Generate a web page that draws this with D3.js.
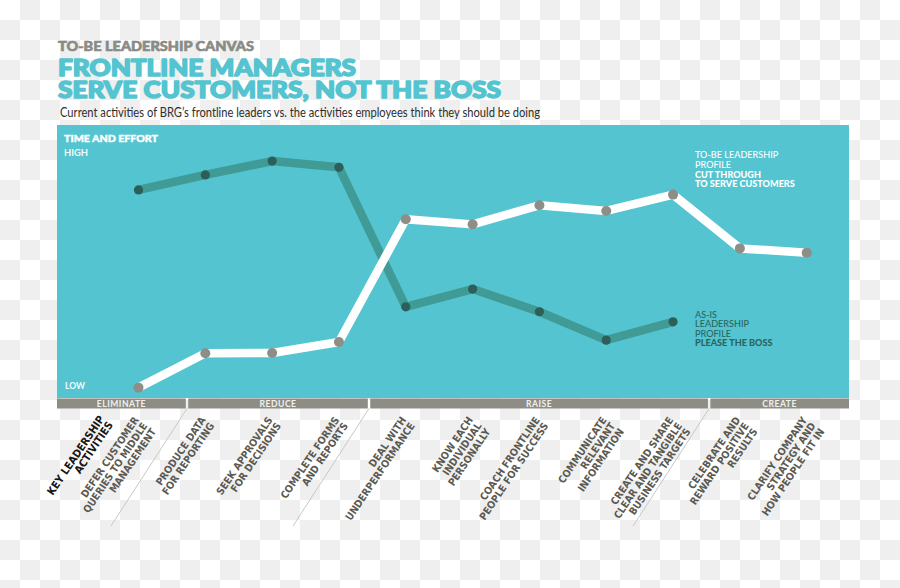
<!DOCTYPE html>
<html><head><meta charset="utf-8">
<script src="https://cdn.jsdelivr.net/npm/d3@7"></script>
<style>body{margin:0;background:#fff;} svg{display:block;}</style>
</head><body>
<script>
// ---- data ----
const activities = [
  ["DEFER CUSTOMER","QUERIES TO MIDDLE","MANAGEMENT"],
  ["PRODUCE DATA","FOR REPORTING"],
  ["SEEK APPROVALS","FOR DECISIONS"],
  ["COMPLETE FORMS","AND REPORTS"],
  ["DEAL WITH","UNDERPERFORMANCE"],
  ["KNOW EACH","INDIVIDUAL","PERSONALLY"],
  ["COACH FRONTLINE","PEOPLE FOR SUCCESS"],
  ["COMMUNICATE","RELEVANT","INFORMATION"],
  ["CREATE AND SHARE","CLEAR AND TANGIBLE","BUSINESS TARGETS"],
  ["CELEBRATE AND","REWARD POSITIVE","RESULTS"],
  ["CLARIFY COMPANY","STRATEGY AND","HOW PEOPLE FIT IN"]
];
const toBeValues = [3.8, 16.4, 16.5, 20.5, 65.5, 63.6, 70.6, 68.5, 74.5, 54.8, 53.2];
const asIsValues = [76.2, 81.7, 86.8, 84.5, 33.4, 39.9, 31.6, 21.2, 27.9, null, null];
const groupNames = ["ELIMINATE", "REDUCE", "RAISE", "CREATE"];
const groupBreaks = [0.726, 3.45, 8.54]; // in activity-index units
const levelLabels = ["LOW", "HIGH"];
const keyLabel = ["KEY LEADERSHIP", "ACTIVITIES"];
const toBeLegend = ["TO-BE LEADERSHIP", "PROFILE", "CUT THROUGH", "TO SERVE CUSTOMERS"];
const asIsLegend = ["AS-IS", "LEADERSHIP", "PROFILE", "PLEASE THE BOSS"];

// ---- layout ----
const W = 900, H = 588;
const panel = {left: 57, right: 849, top: 125, bottom: 398};
const TEAL = "#53c4d0";
const svg = d3.select("body").append("svg").attr("width", W).attr("height", H);

const defs = svg.append("defs");
const pat = defs.append("pattern").attr("id", "chk").attr("width", 40).attr("height", 40)
  .attr("patternUnits", "userSpaceOnUse");
pat.append("rect").attr("width", 40).attr("height", 40).attr("fill", "#ffffff");
pat.append("rect").attr("x", 20).attr("y", 0).attr("width", 20).attr("height", 20).attr("fill", "#efefef");
pat.append("rect").attr("x", 0).attr("y", 20).attr("width", 20).attr("height", 20).attr("fill", "#efefef");
svg.append("rect").attr("width", W).attr("height", H).attr("fill", "url(#chk)");

const x = d3.scaleLinear().domain([0, activities.length - 1]).range([138.5, 806.7]);
const y = d3.scaleLinear().domain([0, 100]).range([panel.bottom, panel.top]);

const heavy = "Lato, 'Open Sans', 'DejaVu Sans', sans-serif";
const narrow = "'Liberation Sans Narrow', 'DejaVu Sans Condensed', 'Roboto', sans-serif";

// header
svg.append("text").attr("x", 58).attr("y", 50.7).text("TO-BE LEADERSHIP CANVAS")
  .attr("font-family", heavy).attr("font-weight", 900).attr("font-size", 12.5)
  .attr("fill", "#8b8b85").attr("stroke", "#8b8b85").attr("stroke-width", 0.6)
  .attr("textLength", 196).attr("lengthAdjust", "spacingAndGlyphs");
svg.append("text").attr("x", 58).attr("y", 76).text("FRONTLINE MANAGERS")
  .attr("font-family", heavy).attr("font-weight", 900).attr("font-size", 22.5)
  .attr("fill", TEAL).attr("stroke", TEAL).attr("stroke-width", 1.5).attr("stroke-linejoin", "round")
  .attr("textLength", 298).attr("lengthAdjust", "spacingAndGlyphs");
svg.append("text").attr("x", 58).attr("y", 97.5).text("SERVE CUSTOMERS, NOT THE BOSS")
  .attr("font-family", heavy).attr("font-weight", 900).attr("font-size", 22.5)
  .attr("fill", TEAL).attr("stroke", TEAL).attr("stroke-width", 1.5).attr("stroke-linejoin", "round")
  .attr("textLength", 443).attr("lengthAdjust", "spacingAndGlyphs");
svg.append("text").attr("x", 60).attr("y", 117).text("Current activities of BRG\u2019s frontline leaders vs. the activities employees think they should be doing")
  .attr("font-family", "Lato, 'Open Sans', sans-serif").attr("font-size", 12.5)
  .attr("fill", "#2e2e2e").attr("textLength", 480).attr("lengthAdjust", "spacingAndGlyphs");

// panel
svg.append("rect").attr("x", panel.left).attr("y", panel.top)
  .attr("width", panel.right - panel.left).attr("height", panel.bottom - panel.top).attr("fill", TEAL);

svg.append("text").attr("x", 64).attr("y", 141.7).text("TIME AND EFFORT")
  .attr("font-family", heavy).attr("font-weight", 900).attr("font-size", 10)
  .attr("fill", "#fff").attr("stroke", "#fff").attr("stroke-width", 0.4)
  .attr("textLength", 94).attr("lengthAdjust", "spacingAndGlyphs");
svg.append("text").attr("x", 64).attr("y", 155.5).text(levelLabels[1])
  .attr("font-family", heavy).attr("font-weight", 700).attr("font-size", 9.5)
  .attr("fill", "#f2fbfc").attr("textLength", 24).attr("lengthAdjust", "spacingAndGlyphs");
svg.append("text").attr("x", 65).attr("y", 389).text(levelLabels[0])
  .attr("font-family", heavy).attr("font-weight", 700).attr("font-size", 9.5)
  .attr("fill", "#f2fbfc").attr("textLength", 20).attr("lengthAdjust", "spacingAndGlyphs");

// lines
const line = d3.line().defined(d => d != null).x((d, i) => x(i)).y(d => y(d));
svg.append("path").datum(asIsValues).attr("d", line).attr("fill", "none")
  .attr("stroke", "#409b96").attr("stroke-width", 8.5).attr("stroke-linejoin", "round");
svg.append("g").selectAll("circle").data(asIsValues.map((v, i) => [v, i]).filter(d => d[0] != null))
  .join("circle").attr("cx", d => x(d[1])).attr("cy", d => y(d[0])).attr("r", 4.6).attr("fill", "#2c5f59");
svg.append("path").datum(toBeValues).attr("d", line).attr("fill", "none")
  .attr("stroke", "#ffffff").attr("stroke-width", 8.5).attr("stroke-linejoin", "round").attr("stroke-linecap", "round");
svg.append("g").selectAll("circle").data(toBeValues)
  .join("circle").attr("cx", (d, i) => x(i)).attr("cy", d => y(d)).attr("r", 5).attr("fill", "#8f8e86");

// legends
function legend(lines, top, color, boldFrom) {
  const g = svg.append("g");
  lines.forEach((t, j) => {
    g.append("text").attr("x", 695).attr("y", top + j * 9.6).text(t)
      .attr("font-family", "Lato, 'Open Sans', sans-serif")
      .attr("font-weight", j >= boldFrom ? 900 : 500).attr("font-size", 9.1)
      .attr("fill", color);
  });
}
legend(toBeLegend, 158.3, "#ffffff", 2);
legend(asIsLegend, 317.5, "#2d645e", 3);

// category bar
const edges = [panel.left, ...groupBreaks.map(b => x(b)), panel.right];
const bar = svg.append("g");
groupNames.forEach((name, i) => {
  const x0 = edges[i] + (i > 0 ? 1.2 : 0), x1 = edges[i + 1] - (i < groupNames.length - 1 ? 1.2 : 0);
  bar.append("rect").attr("x", x0).attr("y", 398.5).attr("width", x1 - x0).attr("height", 10).attr("fill", "#8e8d85");
  bar.append("text").attr("x", (x0 + x1) / 2).attr("y", 406.8).attr("text-anchor", "middle").text(name)
    .attr("font-family", heavy).attr("font-weight", 700).attr("font-size", 8.6)
    .attr("letter-spacing", 0.5).attr("fill", "#f1f1ec");
});
groupBreaks.forEach(b => {
  svg.append("line").attr("x1", x(b)).attr("y1", 408.5).attr("x2", x(b) - 76).attr("y2", 526)
    .attr("stroke", "#c9c9c2").attr("stroke-width", 1);
});

// activity labels
function rotLabel(lines, ox, oy, color, size, weight) {
  const g = svg.append("g").attr("transform", `translate(${ox},${oy}) rotate(-56)`);
  lines.forEach((t, j) => {
    g.append("text").attr("x", 0).attr("y", j * 10.4 + 7).attr("text-anchor", "end").text(t)
      .attr("font-family", narrow).attr("font-weight", weight).attr("font-size", size)
      .attr("fill", color);
  });
}
activities.forEach((lines, i) => rotLabel(lines, x(i) - 5, 416, "#5b5a52", 10.3, 700));
rotLabel(keyLabel, 99, 415, "#161616", 10.8, 700);
</script>
</body></html>
